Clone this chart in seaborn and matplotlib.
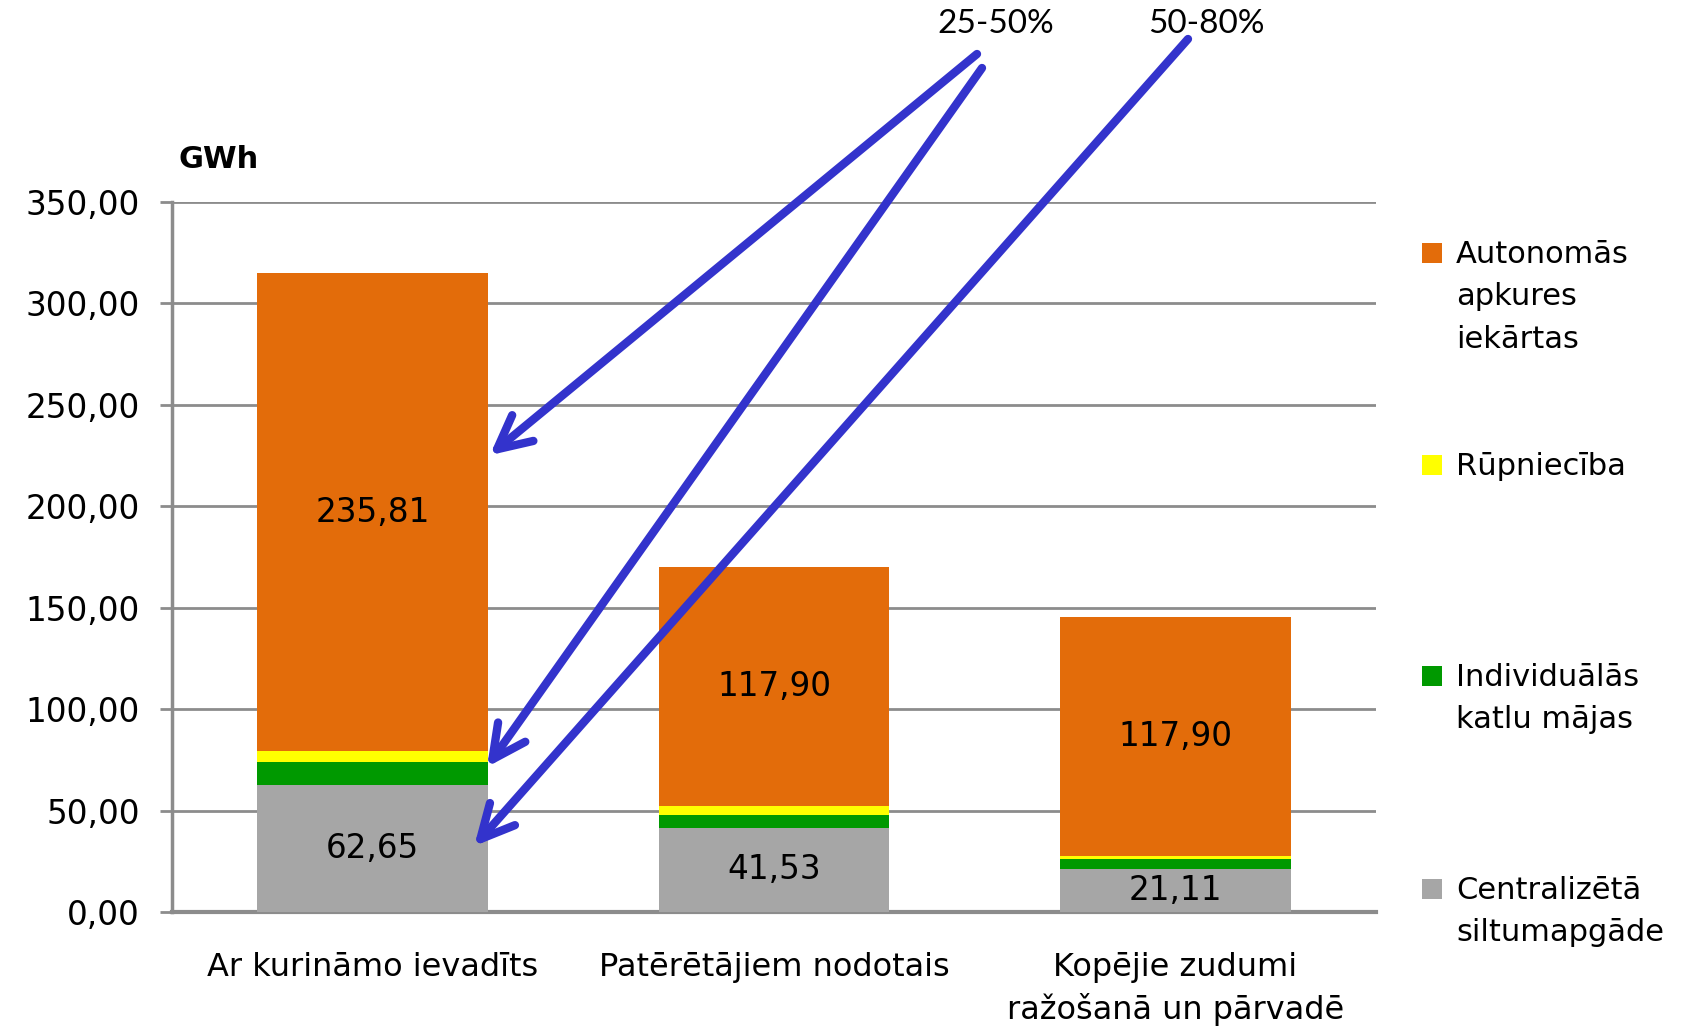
import matplotlib
matplotlib.use("Agg")
import matplotlib.pyplot as plt
import seaborn as sns
import numpy as np
import pandas as pd
from matplotlib.patches import Rectangle
from matplotlib.ticker import FuncFormatter

# ---- data ----
categories = ["Ar kurināmo ievadīts", "Patērētājiem nodotais", "Kopējie zudumi\nražošanā un pārvadē"]
centralizeta = [62.65, 41.53, 21.11]
individualas = [11.4, 6.5, 5.0]
rupnieciba = [5.2, 4.0, 1.5]
autonomas = [235.81, 117.90, 117.90]
series_names = ["Centralizētā\nsiltumapgāde", "Individuālās\nkatlu mājas", "Rūpniecība",
                "Autonomās\napkures\niekārtas"]
series_values = [centralizeta, individualas, rupnieciba, autonomas]
series_colors = ["#A6A6A6", "#009900", "#FFFF00", "#E36C0A"]
labelled_series = [0, 3]  # series whose values are written inside the bars
y_ticks = [0, 50, 100, 150, 200, 250, 300, 350]
arrow_labels = ["25-50%", "50-80%"]

sns.set_style("white")
plt.rcParams["font.family"] = ["DejaVu Sans"]
plt.rcParams["text.color"] = "black"
plt.rcParams["xtick.color"] = "black"
plt.rcParams["ytick.color"] = "black"

fig = plt.figure(figsize=(16.89, 10.28), dpi=100)
W, H = 1689, 1028
ax = fig.add_axes([172 / W, (H - 912) / H, 1204 / W, 710 / H])

df = pd.DataFrame({"cat": categories})
bottom = np.zeros(len(categories))
for i, (name, vals, col) in enumerate(zip(series_names, series_values, series_colors)):
    df["v"] = vals
    sns.barplot(data=df, x="cat", y="v", bottom=bottom, color=col, width=0.574,
                ax=ax, saturation=1, edgecolor="none", linewidth=0, zorder=3)
    if i in labelled_series:
        for xi, (b, v) in enumerate(zip(bottom, vals)):
            ax.text(xi, b + v / 2, f"{v:.2f}".replace(".", ","), ha="center",
                    va="center", fontsize=23.5, color="black", zorder=5)
    bottom = bottom + np.array(vals)

ax.set_xlim(-0.5, len(categories) - 0.5)
ax.set_ylim(0, 350)
ax.set_yticks(y_ticks)
ax.yaxis.set_major_formatter(FuncFormatter(lambda v, p: f"{v:.2f}".replace(".", ",")))
ax.set_xlabel("")
ax.set_ylabel("")
ax.grid(axis="y", color="#8C8C8C", linewidth=2, zorder=0)
ax.set_axisbelow(True)
for s in ["top", "right"]:
    ax.spines[s].set_visible(False)
ax.spines["left"].set_color("#8C8C8C")
ax.spines["left"].set_linewidth(2.5)
ax.spines["bottom"].set_color("#8C8C8C")
ax.spines["bottom"].set_linewidth(3)
ax.tick_params(axis="y", length=9, width=2, color="#8C8C8C", pad=14, labelsize=23.5,
               labelcolor="black", direction="out", left=True)
ax.tick_params(axis="x", length=0, pad=29, labelsize=23, labelcolor="black")
for lab in ax.get_xticklabels():
    lab.set_linespacing(1.38)

# GWh label
fig.text(219 / W, 1 - 160 / H, "GWh", ha="center", va="center", fontsize=22,
         fontweight="bold")

# legend (manual, marker aligned with first line)
legend_order = [3, 2, 1, 0]
legend_y = [253, 465, 676, 889]
for idx, yc in zip(legend_order, legend_y):
    fig.add_artist(Rectangle(((1422) / W, 1 - (yc + 10) / H), 20 / W, 20 / H,
                             transform=fig.transFigure, facecolor=series_colors[idx],
                             edgecolor="none"))
    fig.text(1456 / W, 1 - (yc - 13) / H, series_names[idx], ha="left", va="top",
             fontsize=22, linespacing=1.58)

# arrows
lbl_pos = [(996, 1004), (1206, 1004)]
for t, (px, py) in zip(arrow_labels, lbl_pos):
    fig.text(px / W, py / H, t, ha="center", va="center", fontsize=24,
             family=["Lato", "DejaVu Sans"])

arrows = [((0.292, 225.2), (977, 974)), ((0.285, 71.5), (982, 960)), ((0.253, 32.5), (1188, 989))]
for tip, tail in arrows:
    ax.annotate("", xy=tip, xycoords="data", xytext=tail, textcoords="figure pixels",
                annotation_clip=False, zorder=10,
                arrowprops=dict(arrowstyle="->,head_length=2.4,head_width=1.2",
                                mutation_scale=10, lw=6, color="#3333CC",
                                shrinkA=0, shrinkB=0, capstyle="round",
                                joinstyle="round"))

fig.savefig("out.png", dpi=100)
